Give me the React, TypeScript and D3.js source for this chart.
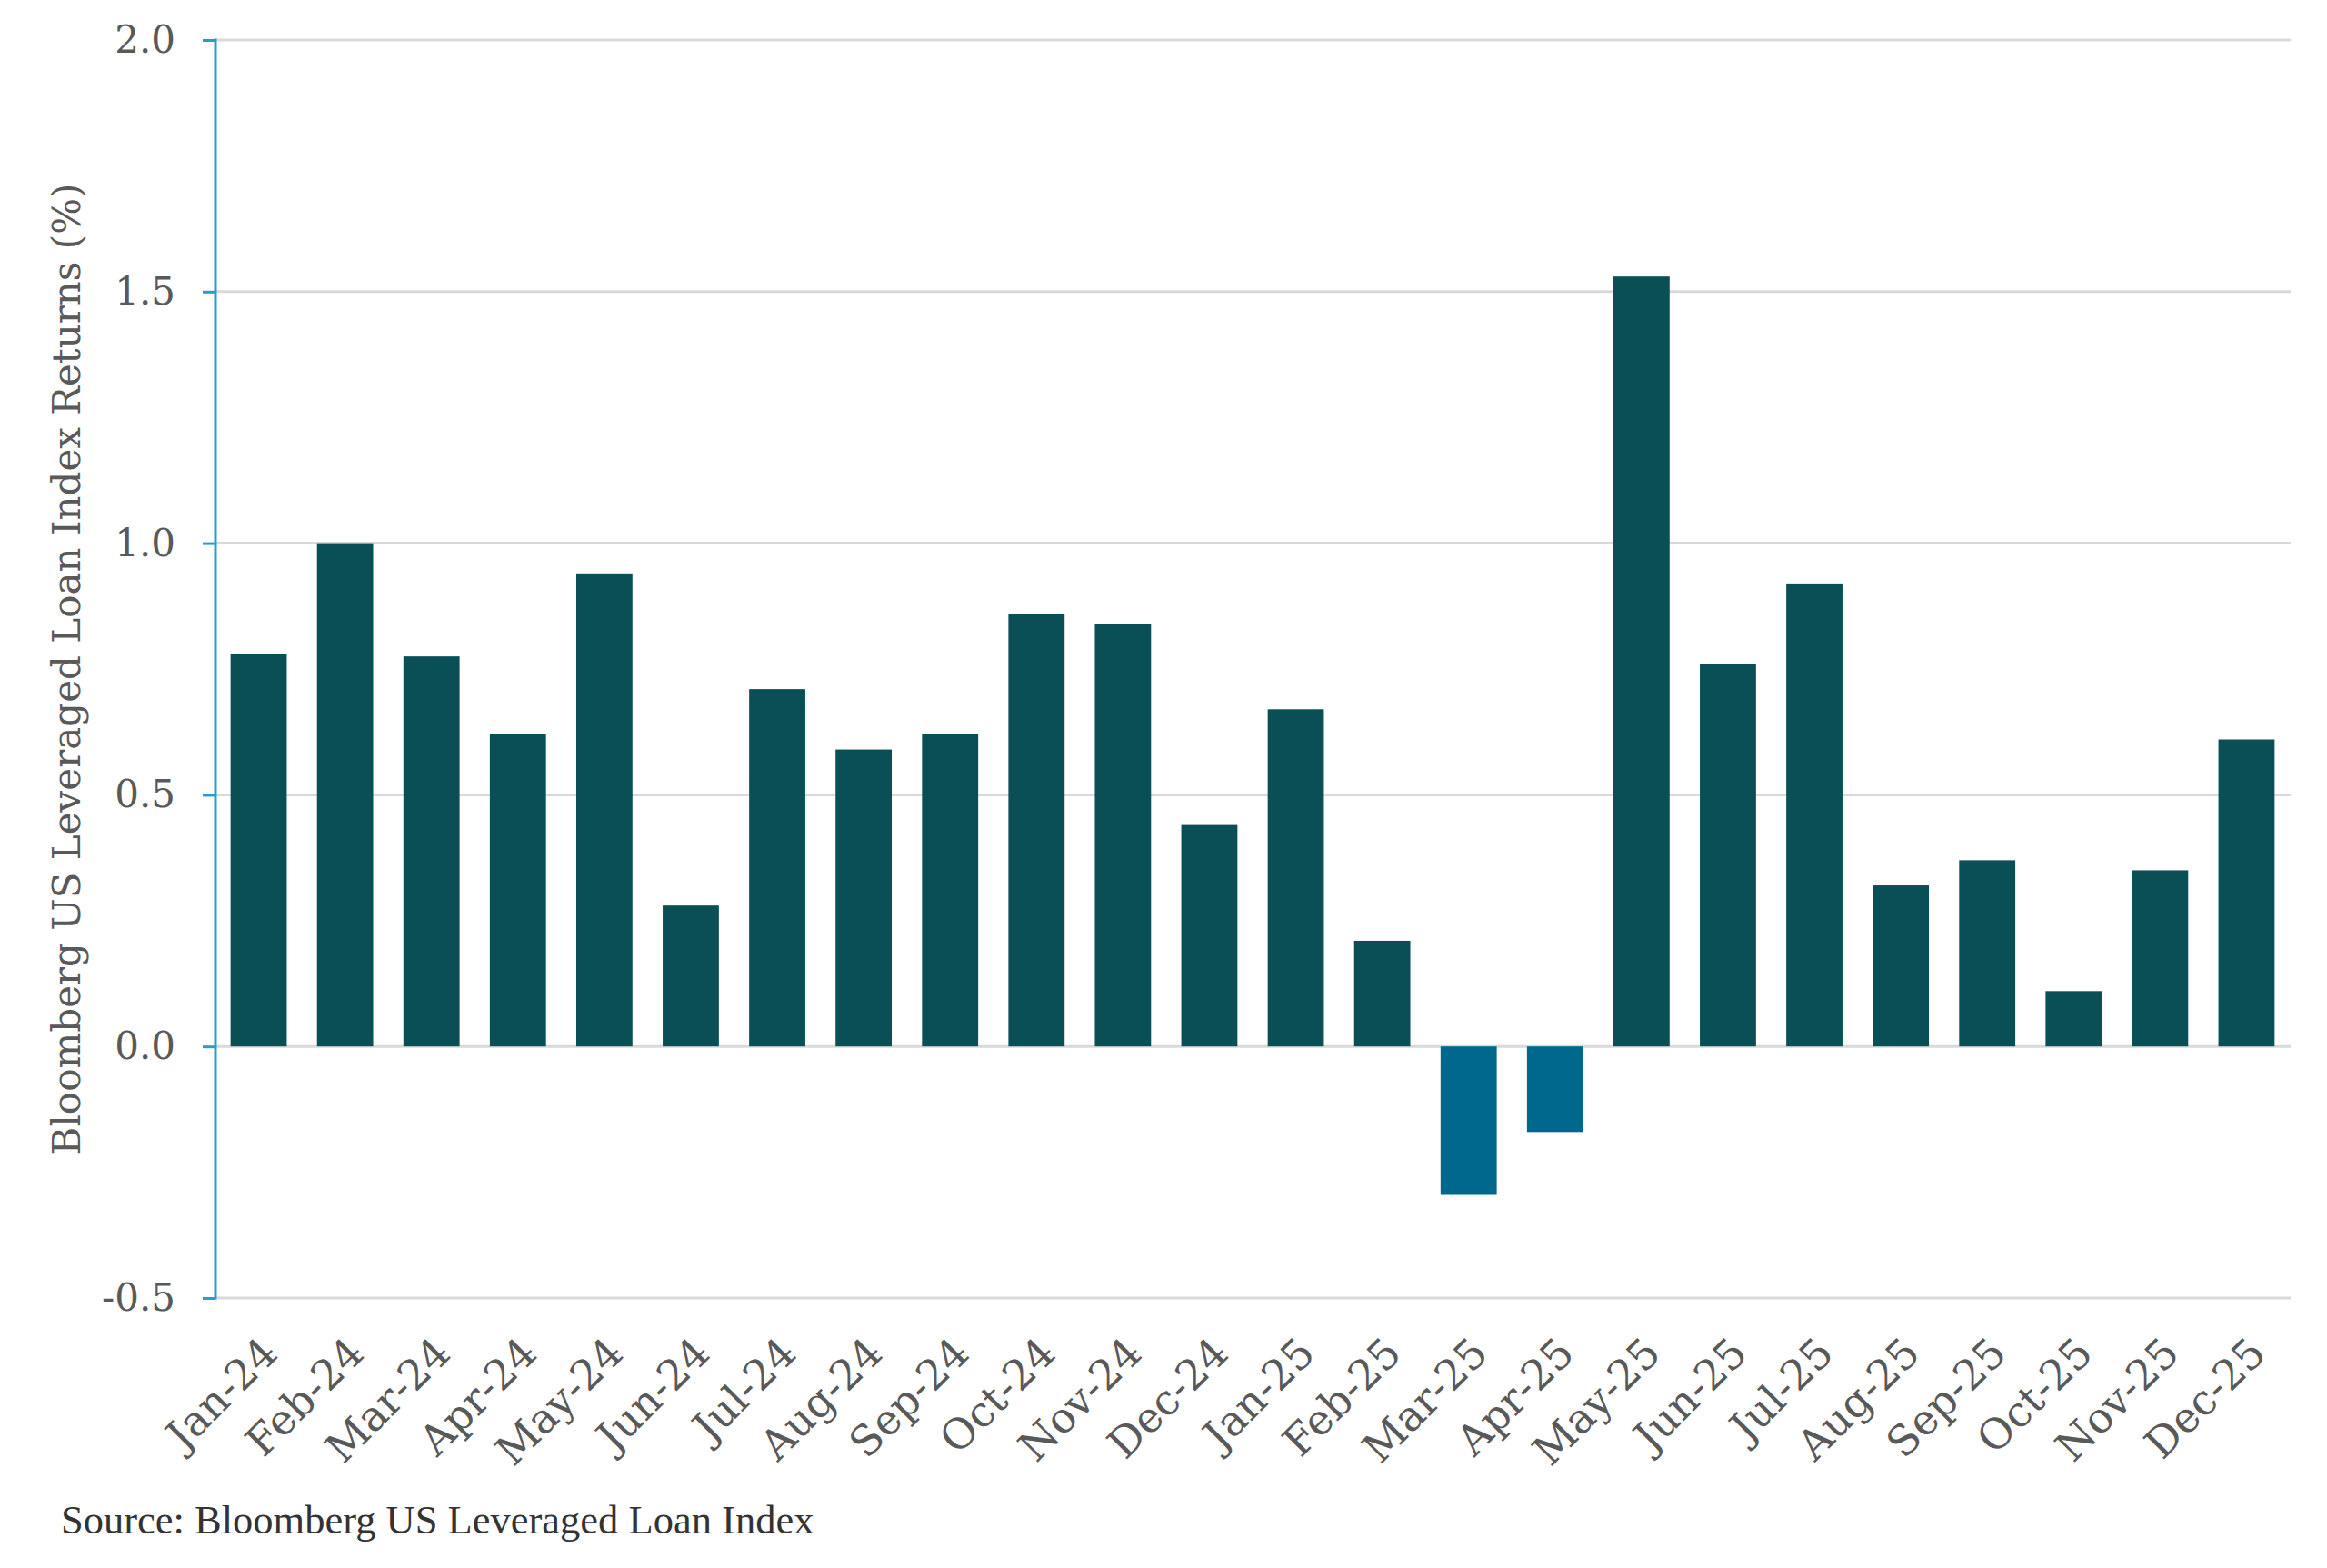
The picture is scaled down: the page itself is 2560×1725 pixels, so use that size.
import React, { useEffect, useRef } from "react";
import * as d3 from "d3";

// Monthly returns, Bloomberg US Leveraged Loan Index (%)
const months: string[] = [
  "Jan-24", "Feb-24", "Mar-24", "Apr-24", "May-24", "Jun-24",
  "Jul-24", "Aug-24", "Sep-24", "Oct-24", "Nov-24", "Dec-24",
  "Jan-25", "Feb-25", "Mar-25", "Apr-25", "May-25", "Jun-25",
  "Jul-25", "Aug-25", "Sep-25", "Oct-25", "Nov-25", "Dec-25",
];

const returns: number[] = [
  0.78, 1.0, 0.775, 0.62, 0.94, 0.28,
  0.71, 0.59, 0.62, 0.86, 0.84, 0.44,
  0.67, 0.21, -0.295, -0.17, 1.53, 0.76,
  0.92, 0.32, 0.37, 0.11, 0.35, 0.61,
];

const yTicks: number[] = [-0.5, 0.0, 0.5, 1.0, 1.5, 2.0];

const yTitle = "Bloomberg US Leveraged Loan Index Returns (%)";
const sourceNote = "Source: Bloomberg US Leveraged Loan Index";

const WIDTH = 2560;
const HEIGHT = 1725;

const App: React.FC = () => {
  const svgRef = useRef<SVGSVGElement | null>(null);

  useEffect(() => {
    const margin = { top: 44, right: 41, bottom: 297, left: 237 };
    const innerWidth = WIDTH - margin.left - margin.right;
    const innerHeight = HEIGHT - margin.top - margin.bottom;

    const svg = d3.select(svgRef.current);
    svg.selectAll("*").remove();

    const chart = svg
      .append("g")
      .attr("transform", `translate(${margin.left}, ${margin.top})`);

    const x = d3
      .scaleBand()
      .domain(months)
      .range([0, innerWidth])
      .paddingInner(0.35)
      .paddingOuter(0.175);

    const y = d3.scaleLinear().domain([-0.5, 2.0]).range([innerHeight, 0]);

    // Gridlines
    chart
      .append("g")
      .selectAll("line")
      .data(yTicks)
      .enter()
      .append("line")
      .attr("x1", 0)
      .attr("x2", innerWidth + 1)
      .attr("y1", (d) => y(d))
      .attr("y2", (d) => y(d))
      .attr("stroke", "#d9d9d9")
      .attr("stroke-width", 3);

    // Bars
    chart
      .append("g")
      .selectAll("rect")
      .data(returns)
      .enter()
      .append("rect")
      .attr("x", (d, i) => x(months[i])!)
      .attr("y", (d) => y(Math.max(0, d)))
      .attr("width", x.bandwidth())
      .attr("height", (d) => Math.abs(y(d) - y(0)))
      .attr("fill", (d) => (d < 0 ? "#00688c" : "#0a4f55"));

    // Y-axis
    const yAxis = chart
      .append("g")
      .call(
        d3
          .axisLeft(y)
          .tickValues(yTicks)
          .tickSize(14)
          .tickPadding(30)
          .tickFormat((d) => (d as number).toFixed(1))
      );
    yAxis.select(".domain").remove();
    yAxis.selectAll(".tick line").attr("stroke", "#2a9bd0").attr("stroke-width", 3);
    yAxis
      .selectAll(".tick text")
      .attr("fill", "#595959")
      .attr("font-family", "'DejaVu Serif', serif")
      .attr("font-size", 42);

    chart
      .append("line")
      .attr("x1", 0)
      .attr("x2", 0)
      .attr("y1", y(2.0) - 1.5)
      .attr("y2", y(-0.5) + 1.5)
      .attr("stroke", "#2a9bd0")
      .attr("stroke-width", 3);

    // X labels
    chart
      .append("g")
      .selectAll("text")
      .data(months)
      .enter()
      .append("text")
      .attr(
        "transform",
        (d) =>
          `translate(${x(d)! + x.bandwidth() / 2 + 12}, ${innerHeight + 52}) rotate(-45)`
      )
      .attr("text-anchor", "end")
      .attr("dy", "0.35em")
      .attr("fill", "#595959")
      .attr("font-family", "'DejaVu Serif', serif")
      .attr("font-size", 46)
      .text((d) => d);

    // Y title
    svg
      .append("text")
      .attr("transform", `translate(88, ${margin.top + y(0.75)}) rotate(-90)`)
      .attr("text-anchor", "middle")
      .attr("fill", "#595959")
      .attr("font-family", "'DejaVu Serif', serif")
      .attr("font-size", 42)
      .text(yTitle);

    // Source
    svg
      .append("text")
      .attr("x", 67)
      .attr("y", 1687)
      .attr("fill", "#333333")
      .attr("font-family", "'Liberation Serif', serif")
      .attr("font-size", 44.5)
      .text(sourceNote);
  }, []);

  return (
    <svg
      ref={svgRef}
      width={WIDTH}
      height={HEIGHT}
      style={{ position: "absolute", top: 0, left: 0, background: "#ffffff" }}
    />
  );
};

export default App;
